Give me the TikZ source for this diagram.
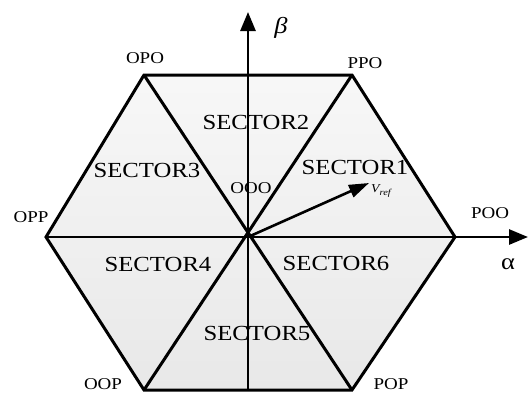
\documentclass[tikz,border=0pt]{standalone}
\usepackage{fontspec}
\setmainfont[FakeStretch=1.15]{Liberation Serif}
\usetikzlibrary{arrows.meta}
\begin{document}
\begin{tikzpicture}[x=1pt,y=-1pt,
  edge/.style={line width=3pt,line join=miter},
  axis/.style={line width=2.8pt,-{Triangle[length=19pt,width=15pt]}},
  sector/.style={font=\fontsize{21.5}{22}\selectfont,inner sep=0pt},
  vlabel/.style={font=\fontsize{16.5}{17}\selectfont,inner sep=0pt},
  axlabel/.style={font=\fontsize{23}{23}\selectfont,inner sep=0pt}]
\useasboundingbox (0,0) rectangle (528,392);
% vertices
\coordinate (O) at (248,237);
\coordinate (A) at (455,237);
\coordinate (B) at (352,75);
\coordinate (C) at (144,75);
\coordinate (D) at (46,237);
\coordinate (E) at (144,390);
\coordinate (F) at (352,390);
\coordinate (Xend) at (528,237);
\coordinate (Ybot) at (248,390);
\coordinate (Yend) at (248,12);
\coordinate (Vt) at (369,183);
% fill
\shade[top color=black!3,bottom color=black!9] (A)--(B)--(C)--(D)--(E)--(F)--cycle;
% spokes
\draw[edge] (B)--(E);
\draw[edge] (C)--(F);
% hexagon
\draw[edge] (A)--(B)--(C)--(D)--(E)--(F)--cycle;
% axes
\draw[axis] (D)--(Xend);
\draw[axis] (Ybot)--(Yend);
% Vref
\draw[line width=2.6pt,-{Triangle[length=20pt,width=13pt]}] (O)--(Vt);
\node[inner sep=0pt,font=\fontsize{12}{12}\selectfont\itshape] (vref) at (381,191) {V\raisebox{-2.5pt}{\fontsize{9}{9}\selectfont ref}};
% labels
\node[vlabel] (lopo) at (145,58) {OPO};
\node[vlabel] (lppo) at (365,63) {PPO};
\node[vlabel] (lopp) at (31,217) {OPP};
\node[vlabel] (lpoo) at (490,213) {POO};
\node[vlabel] (loop) at (103,384) {OOP};
\node[vlabel] (lpop) at (391,384) {POP};
\node[vlabel] (looo) at (251,188) {OOO};
\node[sector] (s1) at (355,167) {SECTOR1};
\node[sector] (s2) at (256,122) {SECTOR2};
\node[sector] (s3) at (147,170) {SECTOR3};
\node[sector] (s4) at (158,264) {SECTOR4};
\node[sector] (s5) at (257,333) {SECTOR5};
\node[sector] (s6) at (336,263) {SECTOR6};
\node[axlabel] (beta) at (281,28) {\textit{β}};
\node[axlabel] (alpha) at (508,264) {α};
\end{tikzpicture}
\end{document}
